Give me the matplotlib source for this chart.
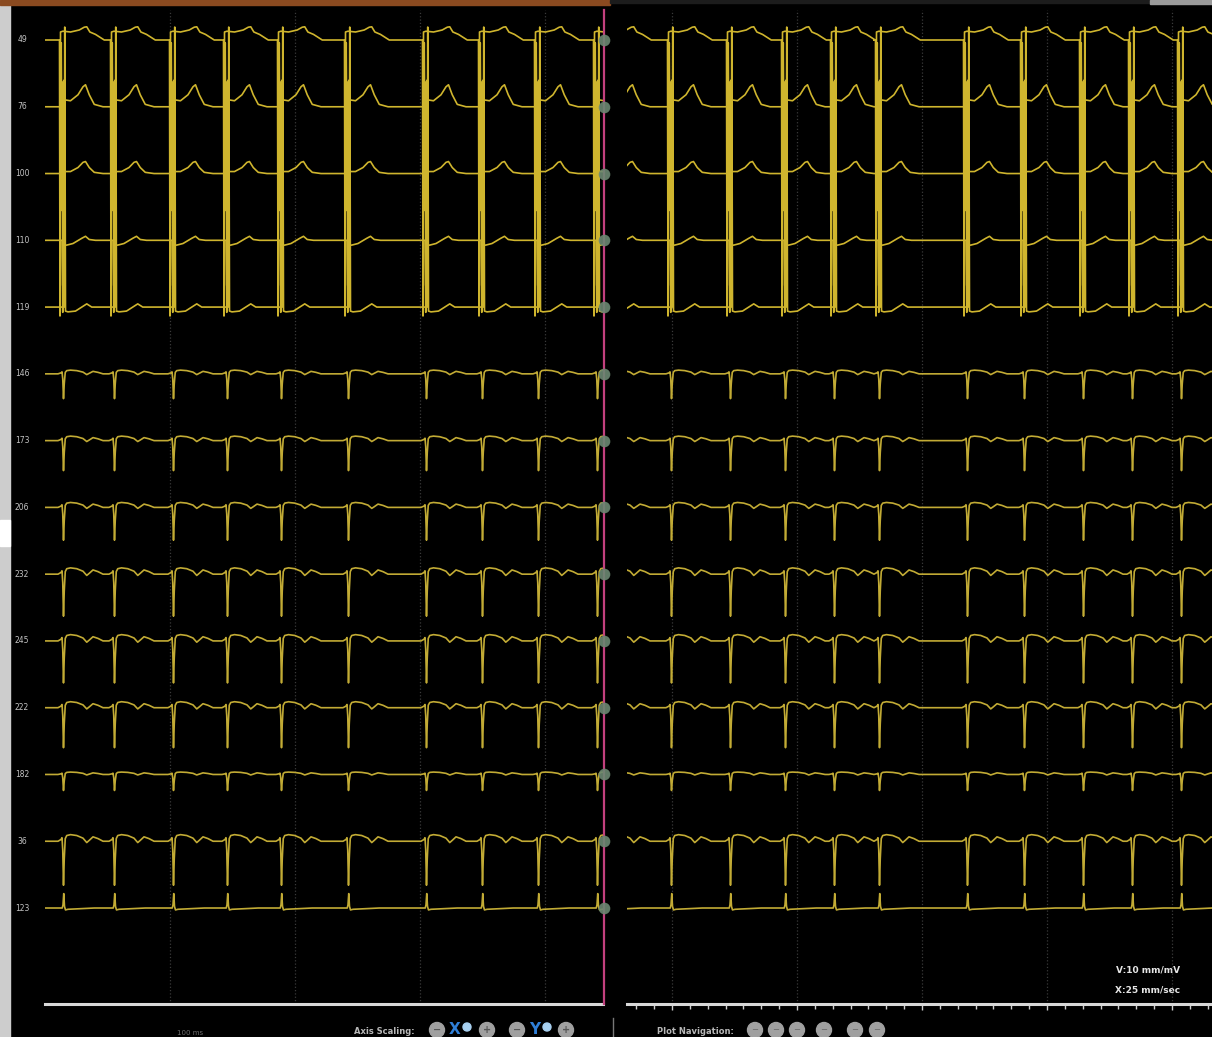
"""Two-panel EP recording screen: 14 stacked channels on black, yellow traces."""

import matplotlib

matplotlib.use("Agg")
import matplotlib.pyplot as plt
from matplotlib.patches import Circle, Rectangle
from matplotlib.ticker import MultipleLocator
from matplotlib.transforms import blended_transform_factory

W, H = 1212, 1037
TRACE = "#c2ab35"
TRACE_HOT = "#cfb52e"
LABEL = "#c4c4c4"
MAGENTA = "#c2407e"
DOT = "#6b8872"
GRID = "#3a3a3a"

# channel rows, top to bottom
channel_labels = ["49", "76", "100", "110", "119", "146", "173", "206",
                  "232", "245", "222", "182", "36", "123"]
channel_template = ["lead_a", "lead_b", "lead_c", "lead_d", "lead_e",
                    "far", "far", "far", "far", "far", "far", "far", "far", "pos"]
channel_gain = [1.0, 1.0, 1.0, 1.0, 1.0,
                0.62, 0.75, 0.82, 1.05, 1.05, 1.0, 0.4, 1.1, 0.4]

# beat (QRS) times in ms for each panel
beats_left_ms = [144, 552, 1024, 1456, 1888, 2424, 3048, 3496, 3944, 4416]
beats_right_ms = [504, 992, 1464, 1904, 2296, 2656, 3360, 3816, 4288, 4680, 5072]
left_window_ms = (0, 4464)
right_window_ms = (640, 5320)

# beat shapes: offset from QRS (ms) and amplitude (mV, positive = up)
template_t = {
    "lead_a": [-40, -28, -24, -20, 0, 60, 130, 170, 190, 215, 260, 330],
    "lead_b": [-40, -20, -14, -6, 2, 20, 60, 120, 160, 180, 210, 250, 320],
    "lead_c": [-40, -16, -10, -2, 6, 20, 60, 120, 160, 180, 210, 250, 320],
    "lead_d": [-40, -8, -2, 6, 14, 30, 80, 150, 180, 210, 260, 320],
    "lead_e": [-40, 8, 14, 20, 40, 100, 150, 190, 230, 320],
    "far": [-40, -16, -8, -2, 4, 10, 18, 30, 60, 110, 160, 190, 210, 240, 280, 320],
    "pos": [-40, -6, 0, 6, 12, 20, 40, 120, 250, 320],
}
template_mv = {
    "lead_a": [0, 0, -6.9, 0.2, 0.22, 0.2, 0.25, 0.32, 0.33, 0.2, 0.14, 0],
    "lead_b": [0, 0, 1.6, -2.6, 0.17, 0.17, 0.15, 0.3, 0.5, 0.55, 0.3, 0.06, 0],
    "lead_c": [0, 0, 2.3, -2.8, 0.05, 0.05, 0.05, 0.15, 0.28, 0.3, 0.15, 0.03, 0],
    "lead_d": [0, 0, -1.8, 4.0, -0.12, -0.12, -0.08, 0.05, 0.1, 0.02, 0, 0],
    "lead_e": [0, 0, 7.0, -0.1, -0.12, -0.1, 0.0, 0.08, 0.0, 0],
    "far": [0, 0.04, 0.08, -0.2, -1.0, -0.4, 0.06, 0.13, 0.15, 0.13, 0.07,
            -0.03, 0.02, 0.1, 0.06, 0],
    "pos": [0, 0, 0.2, 0.9, 0.1, -0.12, -0.08, -0.05, 0, 0],
}

ROW_PX = 66.77          # pixel gap between channel baselines
FIRST_ROW_PX = 40       # pixel y of first baseline
ROWS_PER_MV = 40 / ROW_PX
MS_PER_PX = 8

fig = plt.figure(figsize=(W / 100, H / 100), dpi=100, facecolor="black")

# screen chrome in pixel coordinates
bg = fig.add_axes([0, 0, 1, 1])
bg.set_xlim(0, W)
bg.set_ylim(H, 0)
bg.axis("off")
bg.set_zorder(0)
bg.add_patch(Rectangle((0, 0), 10, H, color="#cdcdcd"))
bg.add_patch(Rectangle((0, 520), 10, 26, color="white"))
bg.add_patch(Rectangle((0, 0), 610, 5, color="#8a4a20"))
bg.add_patch(Rectangle((610, 0), 540, 3, color="#1c1c1c"))
bg.add_patch(Rectangle((1150, 0), 62, 4, color="#9a9a9a"))
bg.plot([613, 613], [1018, 1037], color="#777777", lw=1)


def panel(x0, x1, window, beats, magenta):
    ax = fig.add_axes([x0 / W, 1 - 1004 / H, (x1 - x0) / W, 994 / H])
    ax.set_facecolor("none")
    ax.set_zorder(1)
    ax.set_xlim(*window)
    top = (10 - FIRST_ROW_PX) / ROW_PX
    bottom = (1004 - FIRST_ROW_PX) / ROW_PX
    ax.set_ylim(bottom, top)
    for side in ("top", "left", "right"):
        ax.spines[side].set_visible(False)
    ax.spines["bottom"].set_color("#d8d8d8")
    ax.spines["bottom"].set_linewidth(2.2)
    ax.set_yticks([])
    ax.tick_params(axis="x", labelbottom=False)

    for t in range(1000, window[1] + 1, 1000):
        ax.axvline(t, color=GRID, ls=":", lw=0.9, zorder=0)

    for i, name in enumerate(channel_template):
        gain = channel_gain[i]
        xs = [beats[0] - 400]
        ys = [i]
        for b in beats:
            for t, v in zip(template_t[name], template_mv[name]):
                xs.append(b + t)
                ys.append(i - v * gain * ROWS_PER_MV)
        xs.append(beats[-1] + 400)
        ys.append(i)
        colour = TRACE_HOT if i < 5 else TRACE
        ax.plot(xs, ys, color=colour, lw=1.2, solid_joinstyle="round", zorder=2)

    if magenta:
        xm = window[1] + MS_PER_PX
        ax.plot([xm, xm], [top, bottom], color=MAGENTA, lw=1.6, clip_on=False, zorder=3)
        ax.scatter([xm] * len(channel_labels), range(len(channel_labels)), s=70,
                   color=DOT, alpha=0.9, clip_on=False, zorder=4, linewidths=0)
        tr = blended_transform_factory(fig.transFigure, ax.transData)
        for i, lab in enumerate(channel_labels):
            ax.text(22 / W, i, lab, transform=tr, color=LABEL, fontsize=5.5,
                    ha="center", va="center")
    return ax


ax_l = panel(45, 603, left_window_ms, beats_left_ms, True)
ax_l.set_xticks([])

ax_r = panel(627, 1212, right_window_ms, beats_right_ms, False)
ax_r.xaxis.set_major_locator(MultipleLocator(1000))
ax_r.xaxis.set_minor_locator(MultipleLocator(1000 / 7))
ax_r.tick_params(axis="x", which="major", direction="out", length=4.5, width=1, color="#cfcfcf")
ax_r.tick_params(axis="x", which="minor", direction="out", length=3.5, width=1, color="#cfcfcf")

# scale legend
bg.text(1148, 970, "V:10 mm/mV", color="#e6e6e6", fontsize=6.5, fontweight="bold",
        ha="center", va="center")
bg.text(1148, 990, "X:25 mm/sec", color="#e6e6e6", fontsize=6.5, fontweight="bold",
        ha="center", va="center")

# bottom control bar
bg.text(190, 1033, "100 ms", color="#6e6e6e", fontsize=5, ha="center", va="center")
bg.text(384, 1032, "Axis Scaling:", color="#b8b8b8", fontsize=6, fontweight="bold",
        ha="center", va="center")
for cx, glyph in [(437, "−"), (487, "+"), (517, "−"), (566, "+")]:
    bg.add_patch(Circle((cx, 1030), 7.5, color="#a0a0a0"))
    bg.text(cx, 1030, glyph, color="#555555", fontsize=7, fontweight="bold",
            ha="center", va="center")
for cx, axis_name in [(455, "X"), (535, "Y")]:
    bg.text(cx, 1030, axis_name, color="#2f7fd8", fontsize=11, fontweight="bold",
            ha="center", va="center")
    bg.add_patch(Circle((cx + 12, 1027), 4, color="#a8d0f0"))

bg.text(695, 1032, "Plot Navigation:", color="#b8b8b8", fontsize=6, fontweight="bold",
        ha="center", va="center")
for cx in [755, 776, 797, 824, 855, 877]:
    bg.add_patch(Circle((cx, 1030), 7.5, color="#a0a0a0"))
    bg.text(cx, 1030, "−", color="#666666", fontsize=6, ha="center", va="center")

fig.savefig("out.png", dpi=100, facecolor="black")
